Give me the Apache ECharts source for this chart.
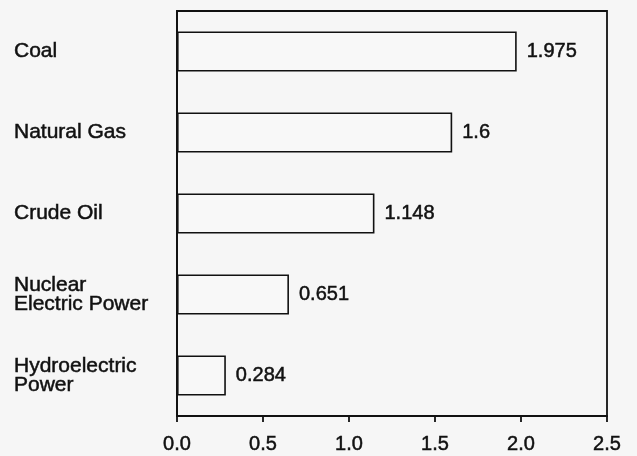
<!DOCTYPE html>
<html>
<head>
<meta charset="utf-8">
<script src="https://cdn.jsdelivr.net/npm/echarts@6/dist/echarts.min.js"></script>
<style>
html,body{margin:0;padding:0;background:#f6f6f6;}
#chart{width:637px;height:456px;}
</style>
</head>
<body>
<div id="chart"></div>
<script>
const categories = ['Coal', 'Natural Gas', 'Crude Oil', 'Nuclear\nElectric Power', 'Hydroelectric\nPower'];
const values = [1.975, 1.6, 1.148, 0.651, 0.284];
const valueLabels = ['1.975', '1.6', '1.148', '0.651', '0.284'];
const xTicks = [0, 0.5, 1.0, 1.5, 2.0, 2.5];

const FONT = '"Liberation Sans", Arial, Helvetica, sans-serif';
const INK = '#111';
const THICK = {textBorderColor: INK, textBorderWidth: 0.5};

const chart = echarts.init(document.getElementById('chart'), null, {renderer: 'canvas'});
chart.setOption({
  backgroundColor: '#f6f6f6',
  animation: false,
  grid: {
    left: 177, right: 30, top: 11, bottom: 40,
    show: true, borderColor: INK, borderWidth: 1.8, backgroundColor: 'transparent'
  },
  xAxis: {
    type: 'value',
    min: xTicks[0],
    max: xTicks[xTicks.length - 1],
    interval: 0.5,
    axisLine: {show: true, lineStyle: {color: INK, width: 1.8}},
    axisTick: {show: true, inside: false, length: 6, lineStyle: {color: INK, width: 1.8}},
    splitLine: {show: false},
    axisLabel: Object.assign({
      color: INK, fontFamily: FONT, fontSize: 20, margin: 18,
      formatter: v => v.toFixed(1)
    }, THICK)
  },
  yAxis: {
    type: 'category',
    data: categories,
    inverse: true,
    axisLine: {show: true, lineStyle: {color: INK, width: 1.8}},
    axisTick: {show: false},
    splitLine: {show: false},
    axisLabel: Object.assign({
      color: INK, fontFamily: FONT, fontSize: 21, lineHeight: 19,
      align: 'left', margin: 163
    }, THICK)
  },
  series: [{
    type: 'bar',
    data: values,
    barWidth: 40,
    itemStyle: {color: '#f8f8f8', borderColor: INK, borderWidth: 1.6},
    label: Object.assign({
      show: true, position: 'right', distance: 10,
      color: INK, fontFamily: FONT, fontSize: 20,
      formatter: p => valueLabels[p.dataIndex]
    }, THICK)
  }]
});
</script>
</body>
</html>
